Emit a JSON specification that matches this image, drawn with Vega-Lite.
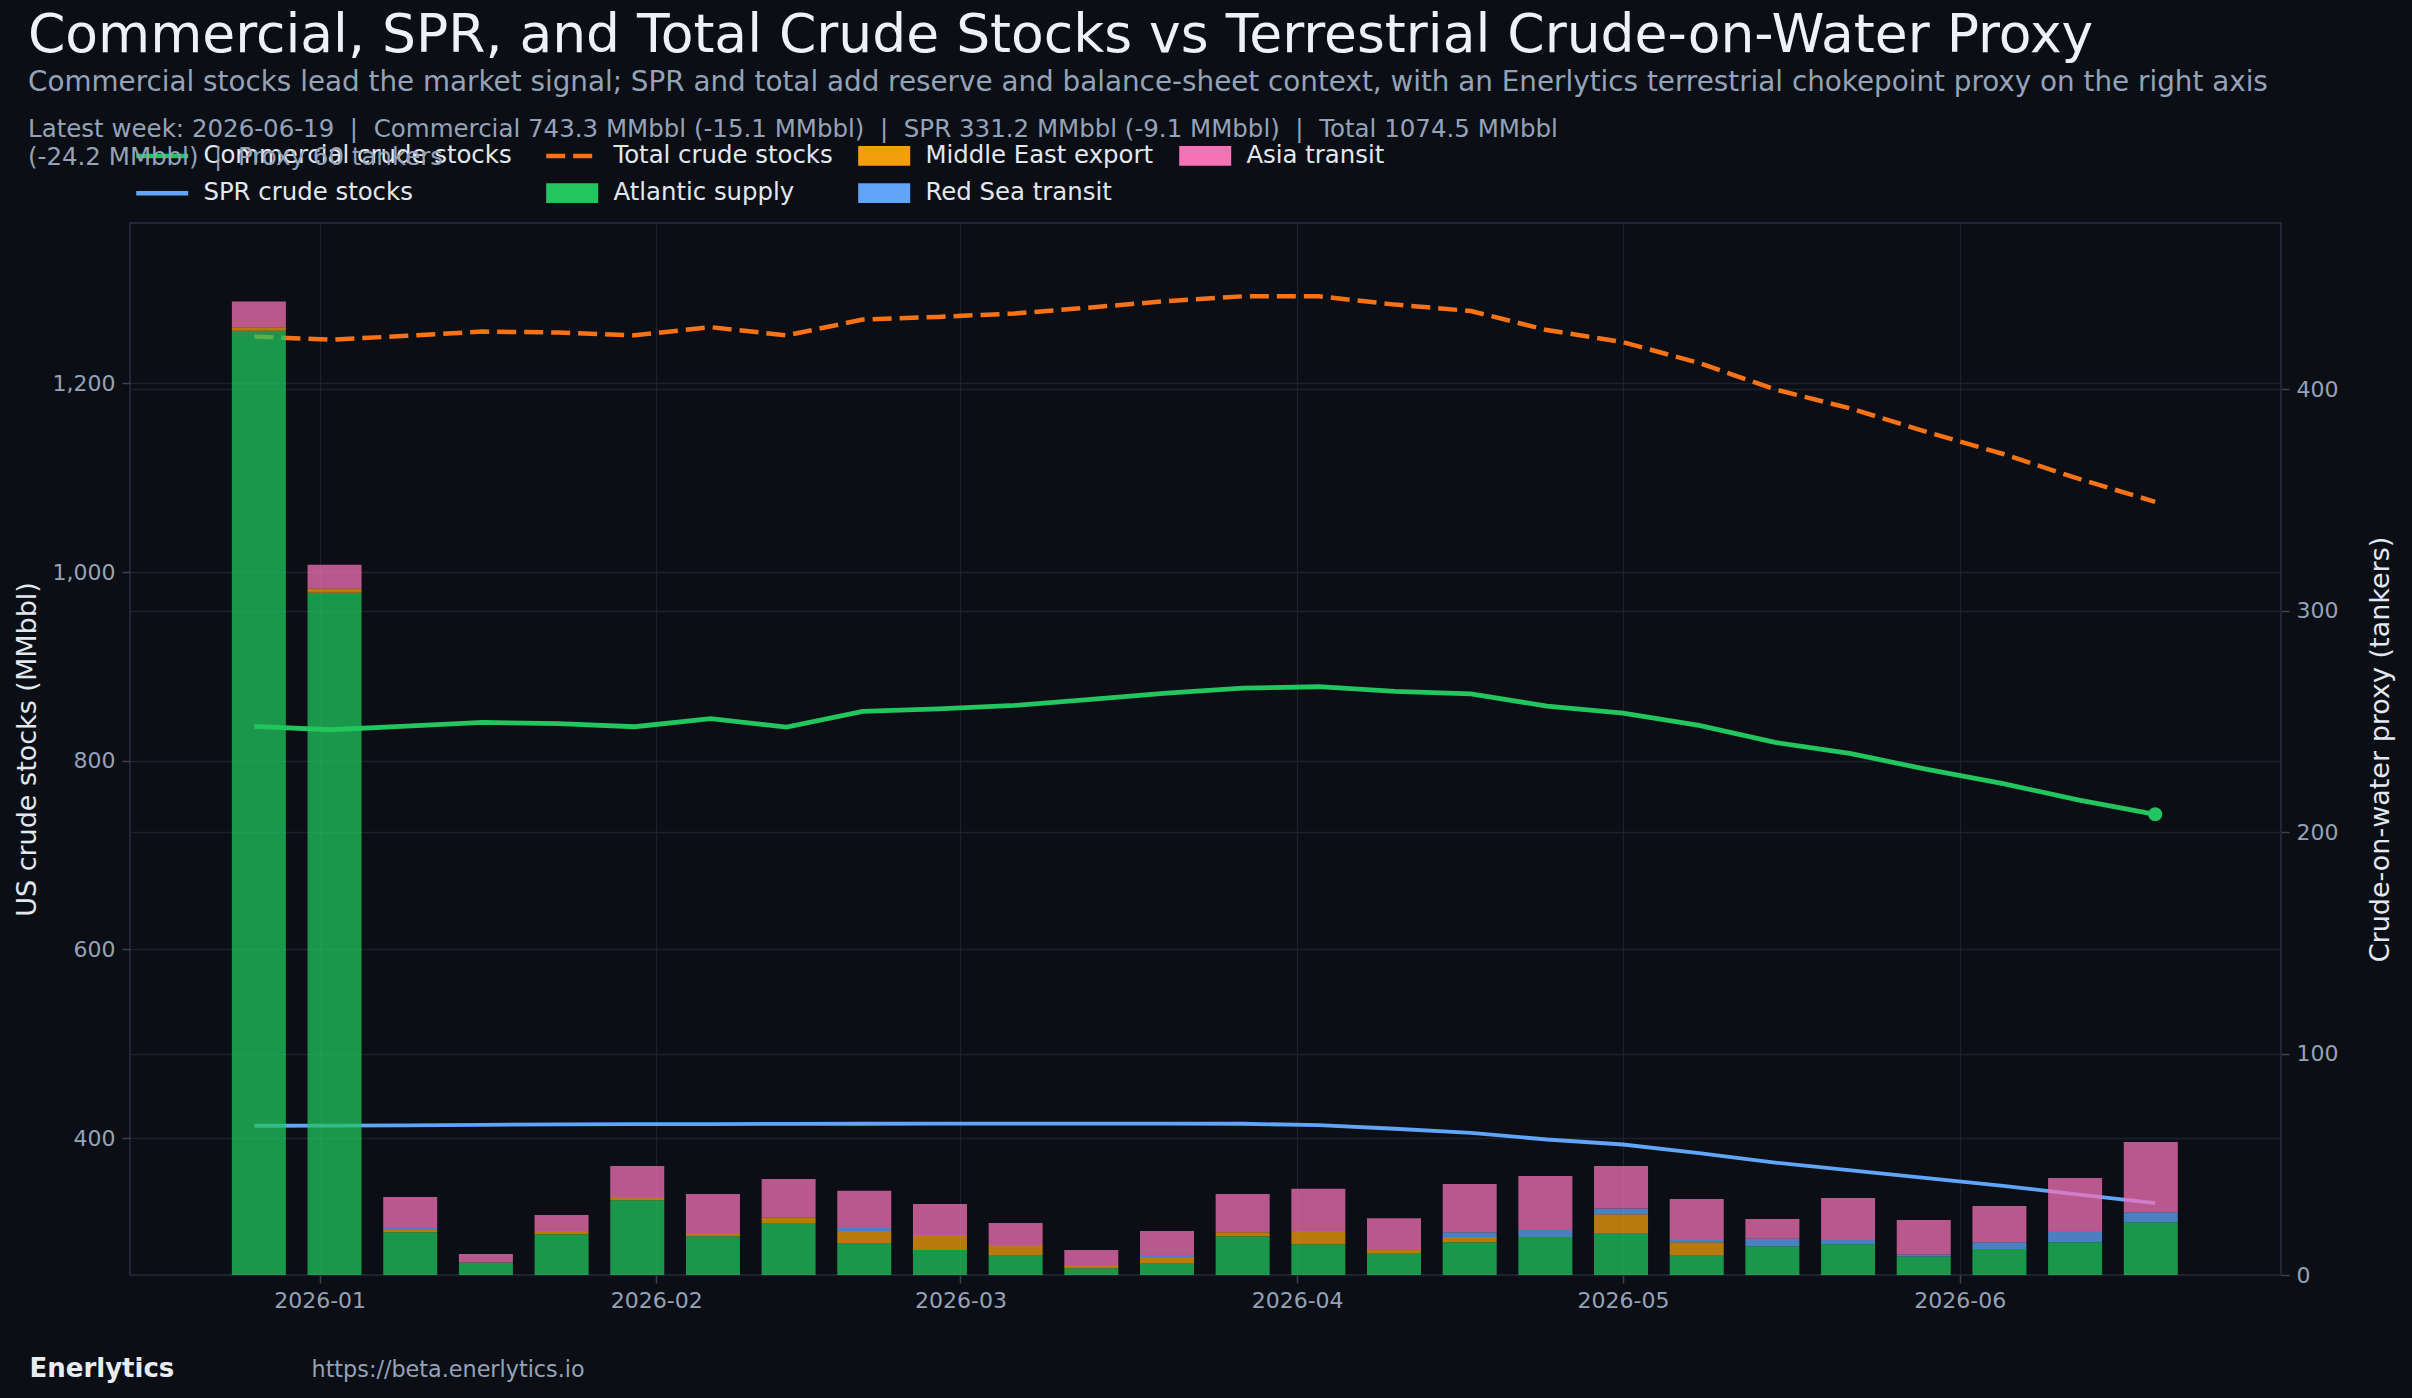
{
  "$schema": "https://vega.github.io/schema/vega-lite/v6.json",
  "autosize": {"type": "none"},
  "width": 2151,
  "height": 1052,
  "padding": {"left": 130, "top": 223, "right": 131, "bottom": 123},
  "background": "#0b0e14",
  "title": {
    "text": "Commercial, SPR, and Total Crude Stocks vs Terrestrial Crude-on-Water Proxy",
    "subtitle": "Commercial stocks lead the market signal; SPR and total add reserve and balance-sheet context, with an Enerlytics terrestrial chokepoint proxy on the right axis",
    "anchor": "start",
    "frame": "group",
    "dx": -102,
    "offset": 20,
    "font": "DejaVu Sans",
    "fontSize": 53.5,
    "fontWeight": "normal",
    "color": "#eef1f5",
    "subtitleFont": "DejaVu Sans",
    "subtitleFontSize": 27.8,
    "subtitleColor": "#94a3b8",
    "subtitlePadding": 6
  },
  "config": {
    "font": "DejaVu Sans",
    "view": {"stroke": "#2a3140", "strokeWidth": 1.5},
    "axis": {
      "labelFont": "DejaVu Sans",
      "labelFontSize": 22,
      "labelColor": "#94a3b8",
      "titleFont": "DejaVu Sans",
      "titleFontSize": 27,
      "titleColor": "#e2e8f0",
      "titleFontWeight": "normal",
      "gridColor": "#1c222d",
      "gridWidth": 1.3,
      "tickColor": "#3a4150",
      "tickSize": 8,
      "tickWidth": 1.5,
      "domain": false,
      "labelPadding": 7
    },
    "legend": {
      "orient": "none",
      "legendX": -102,
      "legendY": -105,
      "columns": 4,
      "columnPadding": 25,
      "rowPadding": 12.5,
      "padding": 0,
      "labelFont": "DejaVu Sans",
      "labelFontSize": 24.4,
      "labelColor": "#e2e8f0",
      "labelLimit": 0,
      "labelOffset": 29,
      "symbolSize": 2704,
      "titleFont": "DejaVu Sans",
      "titleFontSize": 24.5,
      "titleFontWeight": "normal",
      "titleColor": "#94a3b8",
      "titleLimit": 0,
      "titleLineHeight": 28,
      "titlePadding": -27,
      "titleAnchor": "start"
    }
  },
  "datasets": {
    "stocks": [
      {"week": "2025-12-26", "series": "Commercial crude stocks", "mmbbl": 836.4},
      {"week": "2026-01-02", "series": "Commercial crude stocks", "mmbbl": 832.9},
      {"week": "2026-01-09", "series": "Commercial crude stocks", "mmbbl": 836.8},
      {"week": "2026-01-16", "series": "Commercial crude stocks", "mmbbl": 840.7},
      {"week": "2026-01-23", "series": "Commercial crude stocks", "mmbbl": 839.3},
      {"week": "2026-01-30", "series": "Commercial crude stocks", "mmbbl": 836.1},
      {"week": "2026-02-06", "series": "Commercial crude stocks", "mmbbl": 844.6},
      {"week": "2026-02-13", "series": "Commercial crude stocks", "mmbbl": 835.7},
      {"week": "2026-02-20", "series": "Commercial crude stocks", "mmbbl": 852.3},
      {"week": "2026-02-27", "series": "Commercial crude stocks", "mmbbl": 855.1},
      {"week": "2026-03-06", "series": "Commercial crude stocks", "mmbbl": 858.7},
      {"week": "2026-03-13", "series": "Commercial crude stocks", "mmbbl": 865.0},
      {"week": "2026-03-20", "series": "Commercial crude stocks", "mmbbl": 871.7},
      {"week": "2026-03-27", "series": "Commercial crude stocks", "mmbbl": 877.0},
      {"week": "2026-04-03", "series": "Commercial crude stocks", "mmbbl": 878.5},
      {"week": "2026-04-10", "series": "Commercial crude stocks", "mmbbl": 873.5},
      {"week": "2026-04-17", "series": "Commercial crude stocks", "mmbbl": 871.0},
      {"week": "2026-04-24", "series": "Commercial crude stocks", "mmbbl": 857.9},
      {"week": "2026-05-01", "series": "Commercial crude stocks", "mmbbl": 850.5},
      {"week": "2026-05-08", "series": "Commercial crude stocks", "mmbbl": 837.5},
      {"week": "2026-05-15", "series": "Commercial crude stocks", "mmbbl": 819.5},
      {"week": "2026-05-22", "series": "Commercial crude stocks", "mmbbl": 807.5},
      {"week": "2026-05-29", "series": "Commercial crude stocks", "mmbbl": 790.8},
      {"week": "2026-06-05", "series": "Commercial crude stocks", "mmbbl": 775.7},
      {"week": "2026-06-12", "series": "Commercial crude stocks", "mmbbl": 758.4},
      {"week": "2026-06-19", "series": "Commercial crude stocks", "mmbbl": 743.3},
      {"week": "2025-12-26", "series": "SPR crude stocks", "mmbbl": 413.2},
      {"week": "2026-01-02", "series": "SPR crude stocks", "mmbbl": 413.4},
      {"week": "2026-01-09", "series": "SPR crude stocks", "mmbbl": 413.6},
      {"week": "2026-01-16", "series": "SPR crude stocks", "mmbbl": 414.2},
      {"week": "2026-01-23", "series": "SPR crude stocks", "mmbbl": 414.6},
      {"week": "2026-01-30", "series": "SPR crude stocks", "mmbbl": 414.9},
      {"week": "2026-02-06", "series": "SPR crude stocks", "mmbbl": 415.0},
      {"week": "2026-02-13", "series": "SPR crude stocks", "mmbbl": 415.2},
      {"week": "2026-02-20", "series": "SPR crude stocks", "mmbbl": 415.3},
      {"week": "2026-02-27", "series": "SPR crude stocks", "mmbbl": 415.4},
      {"week": "2026-03-06", "series": "SPR crude stocks", "mmbbl": 415.4},
      {"week": "2026-03-13", "series": "SPR crude stocks", "mmbbl": 415.5},
      {"week": "2026-03-20", "series": "SPR crude stocks", "mmbbl": 415.5},
      {"week": "2026-03-27", "series": "SPR crude stocks", "mmbbl": 415.3},
      {"week": "2026-04-03", "series": "SPR crude stocks", "mmbbl": 413.8},
      {"week": "2026-04-10", "series": "SPR crude stocks", "mmbbl": 410.0},
      {"week": "2026-04-17", "series": "SPR crude stocks", "mmbbl": 405.7},
      {"week": "2026-04-24", "series": "SPR crude stocks", "mmbbl": 398.6},
      {"week": "2026-05-01", "series": "SPR crude stocks", "mmbbl": 393.3},
      {"week": "2026-05-08", "series": "SPR crude stocks", "mmbbl": 384.1},
      {"week": "2026-05-15", "series": "SPR crude stocks", "mmbbl": 374.2},
      {"week": "2026-05-22", "series": "SPR crude stocks", "mmbbl": 365.8},
      {"week": "2026-05-29", "series": "SPR crude stocks", "mmbbl": 357.6},
      {"week": "2026-06-05", "series": "SPR crude stocks", "mmbbl": 349.5},
      {"week": "2026-06-12", "series": "SPR crude stocks", "mmbbl": 340.3},
      {"week": "2026-06-19", "series": "SPR crude stocks", "mmbbl": 331.2},
      {"week": "2025-12-26", "series": "Total crude stocks", "mmbbl": 1249.6},
      {"week": "2026-01-02", "series": "Total crude stocks", "mmbbl": 1246.3},
      {"week": "2026-01-09", "series": "Total crude stocks", "mmbbl": 1250.4},
      {"week": "2026-01-16", "series": "Total crude stocks", "mmbbl": 1254.9},
      {"week": "2026-01-23", "series": "Total crude stocks", "mmbbl": 1253.9},
      {"week": "2026-01-30", "series": "Total crude stocks", "mmbbl": 1251.0},
      {"week": "2026-02-06", "series": "Total crude stocks", "mmbbl": 1259.6},
      {"week": "2026-02-13", "series": "Total crude stocks", "mmbbl": 1250.9},
      {"week": "2026-02-20", "series": "Total crude stocks", "mmbbl": 1267.6},
      {"week": "2026-02-27", "series": "Total crude stocks", "mmbbl": 1270.5},
      {"week": "2026-03-06", "series": "Total crude stocks", "mmbbl": 1274.1},
      {"week": "2026-03-13", "series": "Total crude stocks", "mmbbl": 1280.5},
      {"week": "2026-03-20", "series": "Total crude stocks", "mmbbl": 1287.2},
      {"week": "2026-03-27", "series": "Total crude stocks", "mmbbl": 1292.3},
      {"week": "2026-04-03", "series": "Total crude stocks", "mmbbl": 1292.3},
      {"week": "2026-04-10", "series": "Total crude stocks", "mmbbl": 1283.5},
      {"week": "2026-04-17", "series": "Total crude stocks", "mmbbl": 1276.7},
      {"week": "2026-04-24", "series": "Total crude stocks", "mmbbl": 1256.5},
      {"week": "2026-05-01", "series": "Total crude stocks", "mmbbl": 1243.8},
      {"week": "2026-05-08", "series": "Total crude stocks", "mmbbl": 1221.6},
      {"week": "2026-05-15", "series": "Total crude stocks", "mmbbl": 1193.7},
      {"week": "2026-05-22", "series": "Total crude stocks", "mmbbl": 1173.3},
      {"week": "2026-05-29", "series": "Total crude stocks", "mmbbl": 1148.4},
      {"week": "2026-06-05", "series": "Total crude stocks", "mmbbl": 1125.2},
      {"week": "2026-06-12", "series": "Total crude stocks", "mmbbl": 1098.7},
      {"week": "2026-06-19", "series": "Total crude stocks", "mmbbl": 1074.5}
    ],
    "proxy": [
      {"week": "2025-12-26", "series": "Atlantic supply", "k": 1, "tankers": 426.4},
      {"week": "2025-12-26", "series": "Middle East export", "k": 2, "tankers": 1.5},
      {"week": "2025-12-26", "series": "Asia transit", "k": 4, "tankers": 11.6},
      {"week": "2026-01-02", "series": "Atlantic supply", "k": 1, "tankers": 308.0},
      {"week": "2026-01-02", "series": "Middle East export", "k": 2, "tankers": 1.9},
      {"week": "2026-01-02", "series": "Asia transit", "k": 4, "tankers": 10.8},
      {"week": "2026-01-09", "series": "Atlantic supply", "k": 1, "tankers": 19.3},
      {"week": "2026-01-09", "series": "Middle East export", "k": 2, "tankers": 1.0},
      {"week": "2026-01-09", "series": "Red Sea transit", "k": 3, "tankers": 0.9},
      {"week": "2026-01-09", "series": "Asia transit", "k": 4, "tankers": 14.0},
      {"week": "2026-01-16", "series": "Atlantic supply", "k": 1, "tankers": 5.7},
      {"week": "2026-01-16", "series": "Asia transit", "k": 4, "tankers": 3.8},
      {"week": "2026-01-23", "series": "Atlantic supply", "k": 1, "tankers": 18.4},
      {"week": "2026-01-23", "series": "Middle East export", "k": 2, "tankers": 1.5},
      {"week": "2026-01-23", "series": "Asia transit", "k": 4, "tankers": 7.2},
      {"week": "2026-01-30", "series": "Atlantic supply", "k": 1, "tankers": 33.7},
      {"week": "2026-01-30", "series": "Middle East export", "k": 2, "tankers": 1.5},
      {"week": "2026-01-30", "series": "Asia transit", "k": 4, "tankers": 14.0},
      {"week": "2026-02-06", "series": "Atlantic supply", "k": 1, "tankers": 17.5},
      {"week": "2026-02-06", "series": "Middle East export", "k": 2, "tankers": 1.5},
      {"week": "2026-02-06", "series": "Asia transit", "k": 4, "tankers": 17.6},
      {"week": "2026-02-13", "series": "Atlantic supply", "k": 1, "tankers": 23.5},
      {"week": "2026-02-13", "series": "Middle East export", "k": 2, "tankers": 2.3},
      {"week": "2026-02-13", "series": "Asia transit", "k": 4, "tankers": 17.6},
      {"week": "2026-02-20", "series": "Atlantic supply", "k": 1, "tankers": 14.5},
      {"week": "2026-02-20", "series": "Middle East export", "k": 2, "tankers": 5.4},
      {"week": "2026-02-20", "series": "Red Sea transit", "k": 3, "tankers": 1.3},
      {"week": "2026-02-20", "series": "Asia transit", "k": 4, "tankers": 16.8},
      {"week": "2026-02-27", "series": "Atlantic supply", "k": 1, "tankers": 11.3},
      {"week": "2026-02-27", "series": "Middle East export", "k": 2, "tankers": 6.8},
      {"week": "2026-02-27", "series": "Asia transit", "k": 4, "tankers": 14.0},
      {"week": "2026-03-06", "series": "Atlantic supply", "k": 1, "tankers": 9.0},
      {"week": "2026-03-06", "series": "Middle East export", "k": 2, "tankers": 4.6},
      {"week": "2026-03-06", "series": "Asia transit", "k": 4, "tankers": 9.9},
      {"week": "2026-03-13", "series": "Atlantic supply", "k": 1, "tankers": 3.0},
      {"week": "2026-03-13", "series": "Middle East export", "k": 2, "tankers": 1.5},
      {"week": "2026-03-13", "series": "Asia transit", "k": 4, "tankers": 6.8},
      {"week": "2026-03-20", "series": "Atlantic supply", "k": 1, "tankers": 5.4},
      {"week": "2026-03-20", "series": "Middle East export", "k": 2, "tankers": 2.7},
      {"week": "2026-03-20", "series": "Red Sea transit", "k": 3, "tankers": 0.9},
      {"week": "2026-03-20", "series": "Asia transit", "k": 4, "tankers": 10.9},
      {"week": "2026-03-27", "series": "Atlantic supply", "k": 1, "tankers": 17.5},
      {"week": "2026-03-27", "series": "Middle East export", "k": 2, "tankers": 1.8},
      {"week": "2026-03-27", "series": "Asia transit", "k": 4, "tankers": 17.3},
      {"week": "2026-04-03", "series": "Atlantic supply", "k": 1, "tankers": 13.9},
      {"week": "2026-04-03", "series": "Middle East export", "k": 2, "tankers": 6.0},
      {"week": "2026-04-03", "series": "Asia transit", "k": 4, "tankers": 19.0},
      {"week": "2026-04-10", "series": "Atlantic supply", "k": 1, "tankers": 9.9},
      {"week": "2026-04-10", "series": "Middle East export", "k": 2, "tankers": 1.4},
      {"week": "2026-04-10", "series": "Asia transit", "k": 4, "tankers": 14.3},
      {"week": "2026-04-17", "series": "Atlantic supply", "k": 1, "tankers": 14.8},
      {"week": "2026-04-17", "series": "Middle East export", "k": 2, "tankers": 2.4},
      {"week": "2026-04-17", "series": "Red Sea transit", "k": 3, "tankers": 2.1},
      {"week": "2026-04-17", "series": "Asia transit", "k": 4, "tankers": 21.8},
      {"week": "2026-04-24", "series": "Atlantic supply", "k": 1, "tankers": 17.2},
      {"week": "2026-04-24", "series": "Red Sea transit", "k": 3, "tankers": 3.1},
      {"week": "2026-04-24", "series": "Asia transit", "k": 4, "tankers": 24.4},
      {"week": "2026-05-01", "series": "Atlantic supply", "k": 1, "tankers": 19.0},
      {"week": "2026-05-01", "series": "Middle East export", "k": 2, "tankers": 8.4},
      {"week": "2026-05-01", "series": "Red Sea transit", "k": 3, "tankers": 2.6},
      {"week": "2026-05-01", "series": "Asia transit", "k": 4, "tankers": 19.2},
      {"week": "2026-05-08", "series": "Atlantic supply", "k": 1, "tankers": 9.0},
      {"week": "2026-05-08", "series": "Middle East export", "k": 2, "tankers": 5.8},
      {"week": "2026-05-08", "series": "Red Sea transit", "k": 3, "tankers": 1.0},
      {"week": "2026-05-08", "series": "Asia transit", "k": 4, "tankers": 18.5},
      {"week": "2026-05-15", "series": "Atlantic supply", "k": 1, "tankers": 13.0},
      {"week": "2026-05-15", "series": "Red Sea transit", "k": 3, "tankers": 3.4},
      {"week": "2026-05-15", "series": "Asia transit", "k": 4, "tankers": 8.9},
      {"week": "2026-05-22", "series": "Atlantic supply", "k": 1, "tankers": 13.9},
      {"week": "2026-05-22", "series": "Red Sea transit", "k": 3, "tankers": 1.9},
      {"week": "2026-05-22", "series": "Asia transit", "k": 4, "tankers": 19.0},
      {"week": "2026-05-29", "series": "Atlantic supply", "k": 1, "tankers": 8.4},
      {"week": "2026-05-29", "series": "Red Sea transit", "k": 3, "tankers": 0.9},
      {"week": "2026-05-29", "series": "Asia transit", "k": 4, "tankers": 15.5},
      {"week": "2026-06-05", "series": "Atlantic supply", "k": 1, "tankers": 11.7},
      {"week": "2026-06-05", "series": "Red Sea transit", "k": 3, "tankers": 3.1},
      {"week": "2026-06-05", "series": "Asia transit", "k": 4, "tankers": 16.4},
      {"week": "2026-06-12", "series": "Atlantic supply", "k": 1, "tankers": 14.8},
      {"week": "2026-06-12", "series": "Red Sea transit", "k": 3, "tankers": 5.1},
      {"week": "2026-06-12", "series": "Asia transit", "k": 4, "tankers": 23.9},
      {"week": "2026-06-19", "series": "Atlantic supply", "k": 1, "tankers": 23.8},
      {"week": "2026-06-19", "series": "Red Sea transit", "k": 3, "tankers": 4.5},
      {"week": "2026-06-19", "series": "Asia transit", "k": 4, "tankers": 31.7}
    ]
  },
  "layer": [
    {
      "data": {"name": "stocks"},
      "encoding": {
        "x": {
          "field": "week",
          "type": "temporal",
          "scale": {"type": "utc", "domain": [{"year": 2025, "month": 12, "date": 14, "hours": 13, "utc": true}, {"year": 2026, "month": 6, "date": 30, "hours": 14, "utc": true}], "nice": false},
          "axis": {
            "format": "%Y-%m",
            "tickCount": {"interval": "month", "step": 1},
            "labelAngle": 0,
            "grid": true,
            "title": "Enerlytics",
            "titleFontWeight": "bold",
            "titleFontSize": 26,
            "titleColor": "#e8ebf0",
            "titleX": -101,
            "titleY": 101,
            "titleAlign": "left",
            "titleBaseline": "alphabetic",
            "titleAngle": 0
          }
        },
        "y": {
          "field": "mmbbl",
          "type": "quantitative",
          "scale": {"domain": [255, 1370], "nice": false, "zero": false},
          "axis": {
            "values": [400, 600, 800, 1000, 1200],
            "format": ",d",
            "grid": true,
            "title": "US crude stocks (MMbbl)",
            "titleX": -103,
            "titleY": 526,
            "titleAngle": 270,
            "titleAlign": "center",
            "titleBaseline": "middle"
          }
        },
        "color": {
          "field": "series",
          "type": "nominal",
          "scale": {
            "domain": ["Commercial crude stocks", "SPR crude stocks", "Total crude stocks", "Atlantic supply", "Middle East export", "Red Sea transit", "Asia transit"],
            "range": ["#22c55e", "#60a5fa", "#f97316", "#22c55e", "#f59e0b", "#60a5fa", "#f472b6"]
          },
          "legend": {
            "title": ["Latest week: 2026-06-19\u00a0\u00a0|\u00a0\u00a0Commercial 743.3 MMbbl (-15.1 MMbbl)\u00a0\u00a0|\u00a0\u00a0SPR 331.2 MMbbl (-9.1 MMbbl)\u00a0\u00a0|\u00a0\u00a0Total 1074.5 MMbbl", "(-24.2 MMbbl)\u00a0\u00a0|\u00a0\u00a0Proxy 60 tankers"],
            "encode": {
              "title": {"update": {"dx": {"value": -122}}},
              "symbols": {
                "update": {
                  "shape": {"signal": "indexof(['Commercial crude stocks','SPR crude stocks','Total crude stocks'], datum.value) >= 0 ? 'M-1,0L1,0' : 'M-1,-0.38L1,-0.38L1,0.38L-1,0.38Z'"},
                  "fill": {"signal": "indexof(['Commercial crude stocks','SPR crude stocks','Total crude stocks'], datum.value) >= 0 ? 'transparent' : scale('color', datum.value)"},
                  "stroke": {"signal": "indexof(['Commercial crude stocks','SPR crude stocks','Total crude stocks'], datum.value) >= 0 ? scale('color', datum.value) : 'transparent'"},
                  "strokeWidth": {"signal": "indexof(['Commercial crude stocks','SPR crude stocks','Total crude stocks'], datum.value) >= 0 ? 4.5 : 0"},
                  "strokeDash": {"signal": "datum.value == 'Total crude stocks' ? [19, 8] : [1, 0]"},
                  "opacity": {"value": 1},
                  "fillOpacity": {"value": 1},
                  "strokeOpacity": {"value": 1},
                  "size": {"value": 2704}
                }
              }
            }
          }
        }
      },
      "layer": [
        {
          "transform": [{"filter": {"field": "series", "equal": "SPR crude stocks"}}],
          "mark": {"type": "line", "strokeWidth": 3.8}
        },
        {
          "transform": [{"filter": {"field": "series", "equal": "Total crude stocks"}}],
          "mark": {"type": "line", "strokeWidth": 4.5, "strokeDash": [19, 8]}
        },
        {
          "transform": [{"filter": {"field": "series", "equal": "Commercial crude stocks"}}],
          "mark": {"type": "line", "strokeWidth": 4.8}
        },
        {
          "transform": [{"filter": {"and": [{"field": "series", "equal": "Commercial crude stocks"}, {"field": "week", "equal": {"year": 2026, "month": 6, "date": 19, "utc": true}}]}}],
          "mark": {"type": "point", "filled": true, "size": 200, "opacity": 1}
        }
      ]
    },
    {
      "data": {"name": "proxy"},
      "mark": {"type": "bar", "size": 54, "opacity": 0.75},
      "encoding": {
        "x": {
          "field": "week",
          "type": "temporal",
          "scale": {"type": "utc", "domain": [{"year": 2025, "month": 12, "date": 14, "hours": 13, "utc": true}, {"year": 2026, "month": 6, "date": 30, "hours": 14, "utc": true}], "nice": false},
          "axis": {
            "orient": "bottom",
            "labels": false,
            "ticks": false,
            "grid": false,
            "domain": false,
            "title": "https://beta.enerlytics.io",
            "titleFontWeight": "normal",
            "titleFontSize": 22.3,
            "titleColor": "#94a3b8",
            "titleX": 181,
            "titleY": 101,
            "titleAlign": "left",
            "titleBaseline": "alphabetic",
            "titleAngle": 0
          }
        },
        "y": {
          "field": "tankers",
          "type": "quantitative",
          "stack": "zero",
          "scale": {"domain": [0, 475], "nice": false},
          "axis": {
            "orient": "right",
            "values": [0, 100, 200, 300, 400],
            "grid": true,
            "title": "Crude-on-water proxy (tankers)",
            "titleX": 99,
            "titleY": 526,
            "titleAngle": 270,
            "titleAlign": "center",
            "titleBaseline": "middle"
          }
        },
        "color": {
          "field": "series",
          "type": "nominal",
          "scale": {
            "domain": ["Commercial crude stocks", "SPR crude stocks", "Total crude stocks", "Atlantic supply", "Middle East export", "Red Sea transit", "Asia transit"],
            "range": ["#22c55e", "#60a5fa", "#f97316", "#22c55e", "#f59e0b", "#60a5fa", "#f472b6"]
          }
        },
        "order": {"field": "k", "type": "quantitative"}
      }
    }
  ],
  "resolve": {"scale": {"x": "independent", "y": "independent"}, "axis": {"x": "independent", "y": "independent"}}
}
